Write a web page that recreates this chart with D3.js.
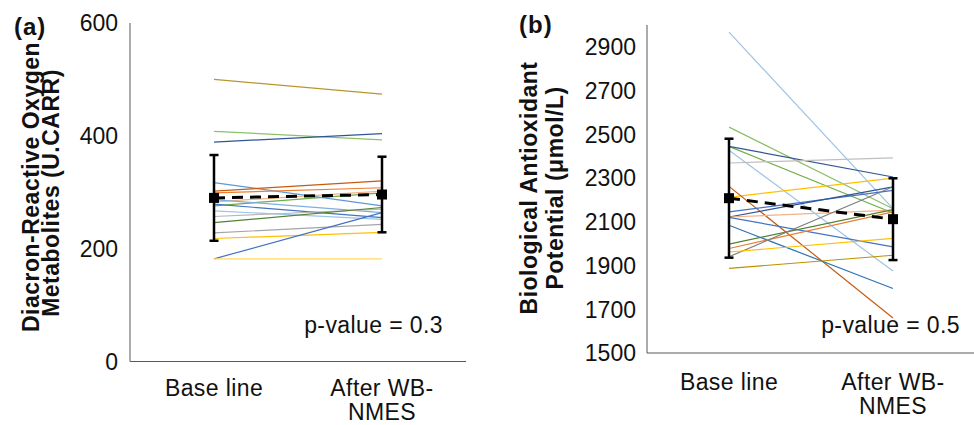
<!DOCTYPE html>
<html>
  <head>
    <style>
      body { margin: 0; background: #fff; }
      text { font-family: "Liberation Sans", Arial, sans-serif; fill: #111; }
      .axis-line { stroke: #595959; stroke-width: 1px; }
      .subject { fill: none; stroke-width: 1.2px; }
    </style>
  </head>
  <body>
    <script src="https://d3js.org/d3.v7.min.js"></script>
    <script>
    var width = 974, height = 425;

    // categories
    var groups = ["Base line", "After WB-NMES"];

    // (a) d-ROMs, one entry per subject: [baseline, after]
    var romBase  = [500, 408, 389, 317, 302, 299, 283, 276, 287, 279, 267, 257, 246, 228, 218, 182, 182];
    var romAfter = [474, 393, 404, 276, 320, 308, 302, 299, 264, 255, 252, 270, 273, 243, 229, 264, 182];
    var romMean = [290, 296];
    var romSd   = [76, 67];
    var romTicks = [0, 200, 400, 600];

    // (b) BAP
    var bapBase  = [2967, 2427, 2533, 2445, 2445, 2369, 2212, 2262, 2145, 2122, 2122, 2120, 2084, 1998, 1978, 1940, 1962, 1887];
    var bapAfter = [2160, 1875, 2160, 2140, 2305, 2392, 2300, 1660, 2244, 2260, 2153, 1985, 1795, 2156, 2145, 2260, 2024, 1947];
    var bapMean = [2208, 2112];
    var bapSd   = [272, 187];
    var bapTicks = [1500, 1700, 1900, 2100, 2300, 2500, 2700, 2900];

    var romColors = ["#b8962e", "#8cc168", "#2f5597", "#5b9bd5", "#c55a11", "#ed7d31", "#f4b183", "#70ad47",
                     "#7cafdd", "#4472c4", "#9dc3e6", "#b7b7b7", "#548235", "#a5a5a5", "#ffc000", "#4472c4", "#ffd966"];
    var bapColors = ["#9dc3e6", "#9dc3e6", "#8cc168", "#70ad47", "#2f5597", "#bfbfbf", "#ffc000", "#c55a11", "#4472c4",
                     "#2f5597", "#f4b183", "#4472c4", "#2e75b6", "#548235", "#ed7d31", "#7f7f7f", "#ffc000", "#bf9000"];

    var svg = d3.select("body")
        .append("svg")
        .attr("width", width)
        .attr("height", height);

    function panel(opt) {
      var x = d3.scalePoint().domain(groups).range(opt.xRange).padding(0.5);
      var y = d3.scaleLinear().domain(opt.yDomain).range(opt.yRange);
      var g = svg.append("g");

      // axes (lines only, no tick marks)
      g.append("line").attr("class", "axis-line")
        .attr("x1", opt.xRange[0]).attr("x2", opt.xRange[0])
        .attr("y1", opt.yRange[0]).attr("y2", opt.yRange[1]);
      g.append("line").attr("class", "axis-line")
        .attr("x1", opt.xRange[0]).attr("x2", opt.xRange[1])
        .attr("y1", opt.yRange[0]).attr("y2", opt.yRange[0]);

      g.selectAll(".tick-label")
        .data(opt.ticks)
        .enter().append("text")
          .attr("class", "tick-label")
          .attr("x", opt.tickX)
          .attr("y", function(d) { return y(d); })
          .attr("dy", "0.36em")
          .attr("text-anchor", "end")
          .style("font-size", "23px")
          .text(function(d) { return d; });

      // category labels
      g.append("text").attr("x", x(groups[0])).attr("y", opt.catY)
        .attr("text-anchor", "middle").style("font-size", "23px").style("letter-spacing", "0.4px")
        .text("Base line");
      var t = g.append("text").attr("x", x(groups[1])).attr("y", opt.catY)
        .attr("text-anchor", "middle").style("font-size", "23px").style("letter-spacing", "0.4px");
      t.append("tspan").attr("x", x(groups[1])).text("After WB-");
      t.append("tspan").attr("x", x(groups[1])).attr("dy", 24).text("NMES");

      // one line per subject
      var subjects = opt.base.map(function(b, i) { return [b, opt.after[i]]; });
      var line = d3.line()
        .x(function(d, i) { return x(groups[i]); })
        .y(function(d) { return y(d); });
      g.selectAll(".subject")
        .data(subjects)
        .enter().append("path")
          .attr("class", "subject")
          .attr("d", line)
          .style("stroke", function(d, i) { return opt.colors[i]; });

      // error bars
      groups.forEach(function(k, i) {
        var cx = x(k), lo = y(opt.mean[i] - opt.sd[i]), hi = y(opt.mean[i] + opt.sd[i]);
        g.append("line").attr("x1", cx).attr("x2", cx).attr("y1", lo).attr("y2", hi)
          .style("stroke", "#000").style("stroke-width", 2.5);
        [lo, hi].forEach(function(yy) {
          g.append("line").attr("x1", cx - 4.5).attr("x2", cx + 4.5).attr("y1", yy).attr("y2", yy)
            .style("stroke", "#000").style("stroke-width", 2.5);
        });
      });

      // mean line
      g.append("path")
        .attr("d", line(opt.mean))
        .style("fill", "none").style("stroke", "#000")
        .style("stroke-width", 3).style("stroke-dasharray", "11,7");
      g.selectAll(".mean-pt")
        .data(opt.mean)
        .enter().append("rect")
          .attr("class", "mean-pt")
          .attr("x", function(d, i) { return x(groups[i]) - 5; })
          .attr("y", function(d) { return y(d) - 5; })
          .attr("width", 10).attr("height", 10)
          .style("fill", "#000");

      // p-value
      g.append("text").attr("x", opt.pX).attr("y", opt.pY)
        .attr("text-anchor", "end").style("font-size", "23px").style("letter-spacing", "0.4px")
        .text(opt.pText);

      // y title
      opt.title.forEach(function(s, i) {
        g.append("text")
          .attr("transform", "translate(" + opt.titleX[i] + "," + opt.titleY[i] + ") rotate(-90)")
          .attr("text-anchor", "middle")
          .style("font-size", "23px").style("font-weight", "bold").style("letter-spacing", "0.5px")
          .text(s);
      });

      g.append("text").attr("x", opt.tagX).attr("y", opt.tagY)
        .style("font-size", "24px").style("font-weight", "bold").style("letter-spacing", "1px")
        .text(opt.tag);
    }

    panel({
      xRange: [130, 466], yDomain: [0, 600], yRange: [361.5, 23],
      ticks: romTicks, tickX: 118, catY: 396,
      base: romBase, after: romAfter, mean: romMean, sd: romSd, colors: romColors,
      pX: 443, pY: 333, pText: "p-value = 0.3",
      title: ["Diacron-Reactive Oxygen", "Metabolites (U.CARR)"], titleX: [39, 59], titleY: [187, 193],
      tag: "(a)", tagX: 14, tagY: 35
    });

    panel({
      xRange: [647, 975], yDomain: [1500, 3000], yRange: [353, 25],
      ticks: bapTicks, tickX: 636, catY: 390,
      base: bapBase, after: bapAfter, mean: bapMean, sd: bapSd, colors: bapColors,
      pX: 960, pY: 333, pText: "p-value = 0.5",
      title: ["Biological Antioxidant", "Potential (\u03bcmol/L)"], titleX: [537, 563], titleY: [188, 188],
      tag: "(b)", tagX: 519, tagY: 33
    });
    </script>
  </body>
</html>
